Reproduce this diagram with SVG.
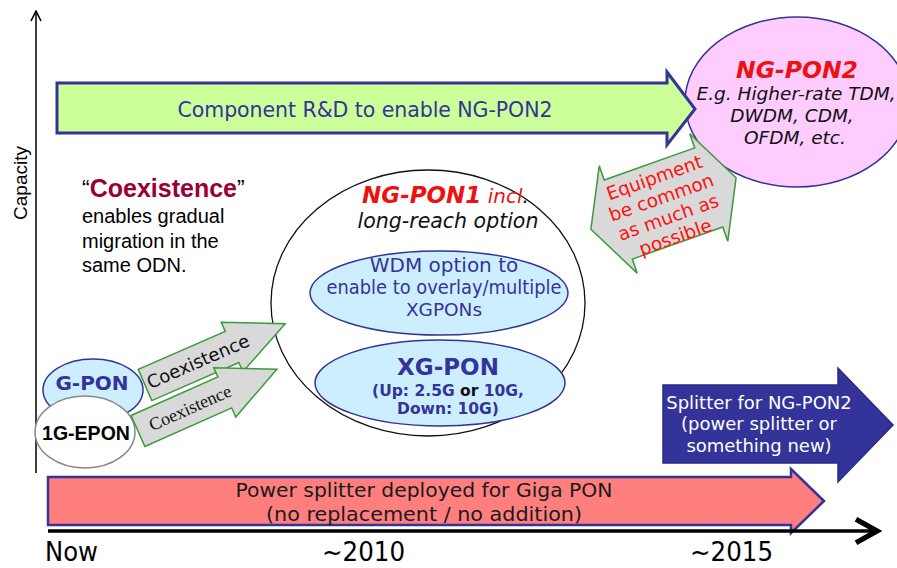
<svg xmlns="http://www.w3.org/2000/svg" width="897" height="568" viewBox="0 0 897 568">
<style>
.dv{font-family:"DejaVu Sans",Verdana,sans-serif}
.ar{font-family:"Liberation Sans",Arial,sans-serif}
.tm{font-family:"Liberation Serif","Times New Roman",serif}
.blue{fill:#333399}
.mid{text-anchor:middle}
.coex{fill:#d9d9d9;stroke:#3a9a3a;stroke-width:1.5}
.lb{fill:#cdeeff;stroke:#333399;stroke-width:1.5}
</style>
<defs>
<marker id="chev" viewBox="0 0 12 12" refX="11" refY="6" markerWidth="12" markerHeight="12" markerUnits="userSpaceOnUse" orient="auto">
<path d="M1,1 L11,6 L1,11" fill="none" stroke="#000" stroke-width="1.6"/>
</marker>
<marker id="chev2" viewBox="0 0 12 12" refX="10" refY="6" markerWidth="9" markerHeight="9" orient="auto">
<path d="M2,1.5 L10,6 L2,10.5" fill="none" stroke="#000" stroke-width="2"/>
</marker>
</defs>

<g id="axes">
<line x1="36" y1="473" x2="36" y2="11" stroke="#000" stroke-width="1.5" marker-end="url(#chev)"/>
<text class="ar" x="27" y="183" font-size="19" text-anchor="middle" transform="rotate(-90 27 183)">Capacity</text>
</g>

<g id="ngpon2">
<ellipse cx="797" cy="102" rx="112" ry="85" fill="#ffccff" stroke="#333399" stroke-width="1.5"/>
<text class="dv mid" x="797" y="78" font-size="23.5" font-weight="bold" font-style="italic" fill="#ee1111">NG-PON2</text>
<text class="dv mid" x="796" y="100" font-size="18.5" font-style="italic" fill="#111">E.g. Higher-rate TDM,</text>
<text class="dv mid" x="792" y="122" font-size="18.5" font-style="italic" fill="#111">DWDM, CDM,</text>
<text class="dv mid" x="795" y="144" font-size="18.5" font-style="italic" fill="#111">OFDM, etc.</text>
</g>

<g id="component-rd">
<polygon points="57,83 667,83 667,72 695,109 667,145 667,133 57,133" fill="#ccff99" stroke="#333399" stroke-width="3"/>
<text class="dv mid blue" x="365" y="117" font-size="20.5" textLength="375">Component R&amp;D to enable NG-PON2</text>
</g>

<g id="equipment" transform="translate(663.5 203.5) rotate(-19.5)">
<polygon class="coex" points="-77,0 -48,-57 -48,-42 48,-42 48,-57 77,0 48,57 48,42 -48,42 -48,57"/>
<g class="dv mid" font-size="18.5" fill="#ff1111">
<text x="0" y="-21">Equipment</text>
<text x="0" y="0">be common</text>
<text x="0" y="21">as much as</text>
<text x="0" y="42">possible</text>
</g>
</g>

<g id="coexistence-note">
<text class="ar" x="82" y="197" font-size="25"><tspan font-size="23">“</tspan><tspan font-weight="bold" fill="#990033">Coexistence</tspan><tspan font-size="23">”</tspan></text>
<text class="ar" x="82" y="223" font-size="20">enables gradual</text>
<text class="ar" x="82" y="248" font-size="20">migration in the</text>
<text class="ar" x="82" y="272" font-size="20">same ODN.</text>
</g>

<g id="ngpon1">
<ellipse cx="428" cy="303" rx="157" ry="133" fill="#fff" stroke="#111" stroke-width="1.3"/>
<text class="dv" x="362" y="203" fill="#ee1111"><tspan font-size="23" font-weight="bold" font-style="italic">NG-PON1</tspan><tspan font-size="20" font-style="italic"> incl</tspan><tspan font-size="20" font-style="italic" fill="#111">.</tspan></text>
<text class="dv mid" x="448" y="228" font-size="20.5" font-style="italic" fill="#111">long-reach option</text>
</g>

<g id="wdm">
<ellipse class="lb" cx="439" cy="293" rx="129" ry="42"/>
<text class="dv mid blue" x="444" y="272" font-size="20">WDM option to</text>
<text class="dv mid blue" x="444" y="294" font-size="19" textLength="235" lengthAdjust="spacingAndGlyphs">enable to overlay/multiple</text>
<text class="dv mid blue" x="444" y="316" font-size="18.5">XGPONs</text>
</g>

<g id="xgpon">
<ellipse class="lb" cx="440" cy="383" rx="125" ry="43"/>
<text class="dv mid blue" x="448" y="375" font-size="23" font-weight="bold">XG-PON</text>
<text class="dv mid blue" x="448" y="396" font-size="15.5" font-weight="bold">(Up: 2.5G <tspan fill="#111">or</tspan> 10G,</text>
<text class="dv mid blue" x="448" y="414" font-size="15.5" font-weight="bold">Down: 10G)</text>
</g>

<g id="gpon">
<ellipse class="lb" cx="93" cy="390" rx="50" ry="31"/>
<text class="dv mid blue" x="92" y="390" font-size="20" font-weight="bold">G-PON</text>
</g>

<g id="epon">
<ellipse cx="85" cy="432" rx="50" ry="36" fill="#fff" stroke="#888" stroke-width="1.5"/>
<text class="ar mid" x="86" y="440" font-size="19.5" font-weight="bold" fill="#000">1G-EPON</text>
</g>

<g id="connectors">
<g id="coex-upper" transform="translate(145 385) rotate(-23.6)">
<polygon class="coex" points="0,-17 95,-17 95,-27 153,0 95,27 95,17 0,17"/>
<text class="dv mid" x="58" y="6" font-size="18" fill="#111">Coexistence</text>
</g>
<g id="coex-lower" transform="translate(138 431) rotate(-24)">
<polygon class="coex" points="0,-17 95,-17 95,-27 152,0 95,27 95,17 0,17"/>
<text class="tm mid" x="57" y="6" font-size="18" fill="#111">Coexistence</text>
</g>
</g>

<g id="splitter-ngpon2">
<polygon points="663,385 838,385 838,368 893,425 838,482 838,463 663,463" fill="#333399" stroke="#2a2a88" stroke-width="1.5"/>
<text class="dv mid" x="759" y="409" font-size="18" fill="#fff">Splitter for NG-PON2</text>
<text class="dv mid" x="759" y="430" font-size="18" fill="#fff">(power splitter or</text>
<text class="dv mid" x="759" y="452" font-size="18" fill="#fff">something new)</text>
</g>

<g id="power-splitter">
<polygon points="48,477 791,477 791,469 824,501 791,533 791,525 48,525" fill="#ff7f7f" stroke="#333399" stroke-width="2.5"/>
<text class="dv mid" x="424" y="497" font-size="19" fill="#1a1a1a" textLength="377" lengthAdjust="spacingAndGlyphs">Power splitter deployed for Giga PON</text>
<text class="dv mid" x="424" y="521" font-size="19" fill="#1a1a1a" textLength="316" lengthAdjust="spacingAndGlyphs">(no replacement / no addition)</text>
</g>

<g id="time-axis">
<line x1="48" y1="531" x2="877" y2="531" stroke="#000" stroke-width="3.5" marker-end="url(#chev2)"/>
<text class="dv" x="45" y="561" font-size="26" fill="#000" textLength="53" lengthAdjust="spacingAndGlyphs">Now</text>
<text class="dv" x="322" y="561" font-size="26" fill="#000" textLength="83" lengthAdjust="spacingAndGlyphs">~2010</text>
<text class="dv" x="690" y="561" font-size="26" fill="#000" textLength="83" lengthAdjust="spacingAndGlyphs">~2015</text>
</g>
</svg>
